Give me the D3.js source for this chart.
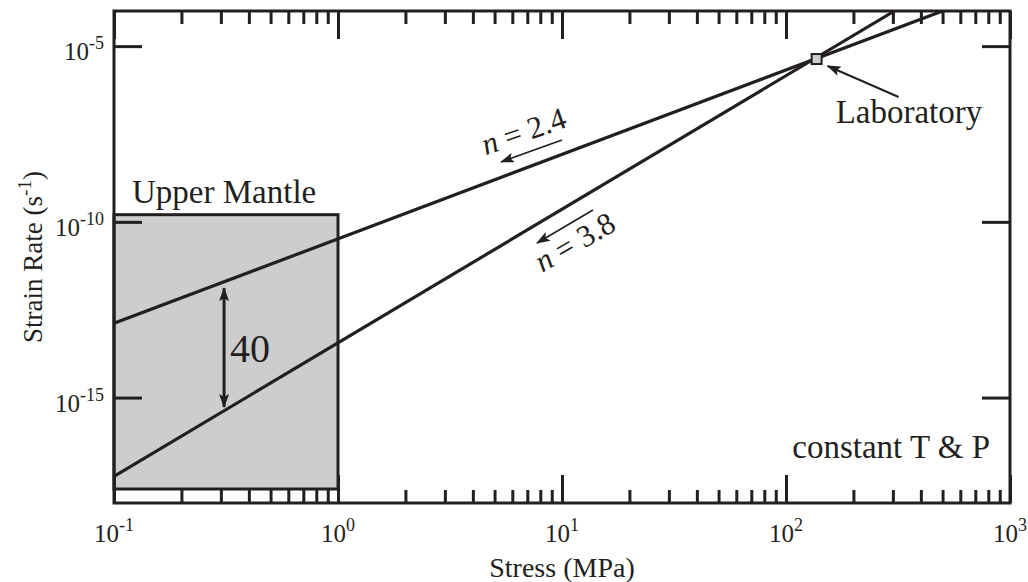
<!DOCTYPE html>
<html>
<head>
<meta charset="utf-8">
<script src="https://cdn.jsdelivr.net/npm/d3@7"></script>
<style>
  html, body { margin: 0; padding: 0; background: #fff; }
  svg { display: block; }
  text { font-family: "Liberation Serif", "Times New Roman", serif; fill: #231f20; }
</style>
</head>
<body>
<svg id="chart" width="1028" height="582"></svg>
<script>
// Axis decades and tick labels
const xDecades = [-1, 0, 1, 2, 3];
const yDecades = [-15, -10, -5];
const xDomain = [0.1, 1000];
const yDomain = [1e-18, 1e-4];

// Power-law flow lines: stress (MPa) endpoints and strain rate (1/s) endpoints
const flowExponents = [2.4, 3.8];
const flowStress = [[0.1, 500], [0.1, 305]];
const flowRate = [[1.3e-13, 1e-4], [5.7e-18, 1e-4]];

// Laboratory measurement point
const labStress = [137];
const labRate = [4.3e-6];

// Upper-mantle conditions range
const mantleStress = [0.1, 1];
const mantleRate = [2.5e-18, 1.6e-10];

// Rate gap between the two flow laws in the mantle range
const gapStress = [0.31];
const gapRate = [1.3e-12, 5.4e-16];
const gapLabel = ["40"];

const ink = "#231f20";
const svg = d3.select("#chart");
const margin = { left: 114, right: 18, top: 11, bottom: 79 };
const W = 1028, H = 582;

const x = d3.scaleLog().domain(xDomain).range([margin.left, W - margin.right]);
const y = d3.scaleLog().domain(yDomain).range([H - margin.bottom, margin.top]);

const defs = svg.append("defs");
defs.append("clipPath").attr("id", "plotClip")
  .append("rect")
  .attr("x", x.range()[0]).attr("y", y.range()[1])
  .attr("width", x.range()[1] - x.range()[0])
  .attr("height", y.range()[0] - y.range()[1]);

function arrowMarker(id, orient) {
  defs.append("marker")
    .attr("id", id)
    .attr("viewBox", "0 0 14 10")
    .attr("refX", 13).attr("refY", 5)
    .attr("markerWidth", 14).attr("markerHeight", 10)
    .attr("markerUnits", "userSpaceOnUse")
    .attr("orient", orient)
    .append("path")
    .attr("d", "M0,0 L14,5 L0,10 L3,5 Z")
    .attr("fill", ink);
}
arrowMarker("head", "auto");
arrowMarker("headBoth", "auto-start-reverse");

// Upper-mantle box
svg.append("rect")
  .attr("x", x(mantleStress[0]))
  .attr("y", y(mantleRate[1]))
  .attr("width", x(mantleStress[1]) - x(mantleStress[0]))
  .attr("height", y(mantleRate[0]) - y(mantleRate[1]))
  .attr("fill", "#cdcdcd")
  .attr("stroke", ink).attr("stroke-width", 3);

// Tick marks along the x axis (bottom and top, pointing inward)
const xMajor = xDecades.map(d => Math.pow(10, d));
const xMinor = [];
xDecades.slice(0, -1).forEach(d => {
  for (let k = 2; k <= 9; k++) xMinor.push(k * Math.pow(10, d));
});
const yMajor = yDecades.map(d => Math.pow(10, d));

function styleAxis(g) {
  g.select(".domain").remove();
  g.selectAll(".tick line").attr("stroke", ink).attr("stroke-width", 3);
  g.selectAll(".tick text").remove();
}

const bottomY = y.range()[0], topY = y.range()[1];
const leftX = x.range()[0], rightX = x.range()[1];

svg.append("g").attr("transform", `translate(0,${bottomY})`)
  .call(d3.axisBottom(x).tickValues(xMinor).tickSize(-13).tickFormat(() => ""))
  .call(styleAxis);
svg.append("g").attr("transform", `translate(0,${bottomY})`)
  .call(d3.axisBottom(x).tickValues(xMajor).tickSize(-28).tickFormat(() => ""))
  .call(styleAxis);
svg.append("g").attr("transform", `translate(0,${topY})`)
  .call(d3.axisTop(x).tickValues(xMinor).tickSize(-13).tickFormat(() => ""))
  .call(styleAxis);
svg.append("g").attr("transform", `translate(0,${topY})`)
  .call(d3.axisTop(x).tickValues(xMajor).tickSize(-28).tickFormat(() => ""))
  .call(styleAxis);
svg.append("g").attr("transform", `translate(${leftX},0)`)
  .call(d3.axisLeft(y).tickValues(yMajor).tickSize(-28).tickFormat(() => ""))
  .call(styleAxis);
svg.append("g").attr("transform", `translate(${rightX},0)`)
  .call(d3.axisRight(y).tickValues(yMajor).tickSize(-28).tickFormat(() => ""))
  .call(styleAxis);

// Flow-law lines
const line = d3.line().x(d => x(d[0])).y(d => y(d[1]));
const flowG = svg.append("g").attr("clip-path", "url(#plotClip)");
flowExponents.forEach((n, i) => {
  const pts = flowStress[i].map((s, j) => [s, flowRate[i][j]]);
  flowG.append("path")
    .attr("d", line(pts))
    .attr("fill", "none")
    .attr("stroke", ink)
    .attr("stroke-width", 3.2);
});

// Frame
svg.append("rect")
  .attr("x", leftX).attr("y", topY)
  .attr("width", rightX - leftX).attr("height", bottomY - topY)
  .attr("fill", "none").attr("stroke", ink).attr("stroke-width", 3);

// Laboratory point
labStress.forEach((s, i) => {
  svg.append("rect")
    .attr("x", x(s) - 5).attr("y", y(labRate[i]) - 5)
    .attr("width", 10).attr("height", 10)
    .attr("fill", "#cdcdcd").attr("stroke", ink).attr("stroke-width", 2);
});

// Tick labels with superscript exponents
function powerLabel(g, exp, px, py, anchor) {
  const t = g.append("text")
    .attr("x", px).attr("y", py)
    .attr("text-anchor", anchor)
    .attr("font-size", 25);
  t.append("tspan").text("10");
  t.append("tspan").attr("dy", -11).attr("font-size", 18).text(String(exp));
  return t;
}
const labels = svg.append("g");
xDecades.forEach(d => powerLabel(labels, d, x(Math.pow(10, d)), 542, "middle"));
yDecades.forEach(d => powerLabel(labels, d, 104, y(Math.pow(10, d)) + 14, "end"));

// Axis titles
svg.append("text")
  .attr("x", (leftX + rightX) / 2).attr("y", 577)
  .attr("text-anchor", "middle").attr("font-size", 28)
  .text("Stress (MPa)");

const yTitle = svg.append("text")
  .attr("transform", `translate(42,${(topY + bottomY) / 2}) rotate(-90)`)
  .attr("text-anchor", "middle").attr("font-size", 27);
yTitle.append("tspan").text("Strain Rate (s");
yTitle.append("tspan").attr("dy", -11).attr("font-size", 19).text("-1");
yTitle.append("tspan").attr("dy", 11).text(")");

// Region and condition labels
svg.append("text")
  .attr("x", x(mantleStress[0]) + 18).attr("y", y(mantleRate[1]) - 12)
  .attr("font-size", 33).text("Upper Mantle");

svg.append("text")
  .attr("x", rightX - 20).attr("y", 458)
  .attr("text-anchor", "end").attr("font-size", 33)
  .text("constant T & P");

// Laboratory callout
const labX = x(labStress[0]), labY = y(labRate[0]);
svg.append("line")
  .attr("x1", labX + 82).attr("y1", labY + 38)
  .attr("x2", labX + 11).attr("y2", labY + 7)
  .attr("stroke", ink).attr("stroke-width", 2)
  .attr("marker-end", "url(#head)");
svg.append("text")
  .attr("x", labX + 19).attr("y", labY + 64)
  .attr("font-size", 33).text("Laboratory");

// Exponent labels with arrows pointing down-slope
const slopeLabels = [
  { dx: [562, 501], dy: [140, 162], tx: 527, ty: 141, ang: -19 },
  { dx: [593, 537], dy: [210, 243], tx: 580, ty: 251, ang: -30 }
];
flowExponents.forEach((n, i) => {
  const s = slopeLabels[i];
  svg.append("line")
    .attr("x1", s.dx[0]).attr("y1", s.dy[0])
    .attr("x2", s.dx[1]).attr("y2", s.dy[1])
    .attr("stroke", ink).attr("stroke-width", 1.6)
    .attr("marker-end", "url(#head)");
  const t = svg.append("text")
    .attr("transform", `translate(${s.tx},${s.ty}) rotate(${s.ang})`)
    .attr("text-anchor", "middle").attr("font-size", 31);
  t.append("tspan").attr("font-style", "italic").text("n");
  t.append("tspan").text(" = " + n.toFixed(1));
});

// Double arrow showing the rate difference
const gx = x(gapStress[0]);
svg.append("line")
  .attr("x1", gx).attr("y1", y(gapRate[0]))
  .attr("x2", gx).attr("y2", y(gapRate[1]))
  .attr("stroke", ink).attr("stroke-width", 3)
  .attr("marker-start", "url(#headBoth)")
  .attr("marker-end", "url(#headBoth)");
svg.append("text")
  .attr("x", gx + 6).attr("y", (y(gapRate[0]) + y(gapRate[1])) / 2 + 14)
  .attr("font-size", 40).text(gapLabel[0]);
</script>
</body>
</html>
